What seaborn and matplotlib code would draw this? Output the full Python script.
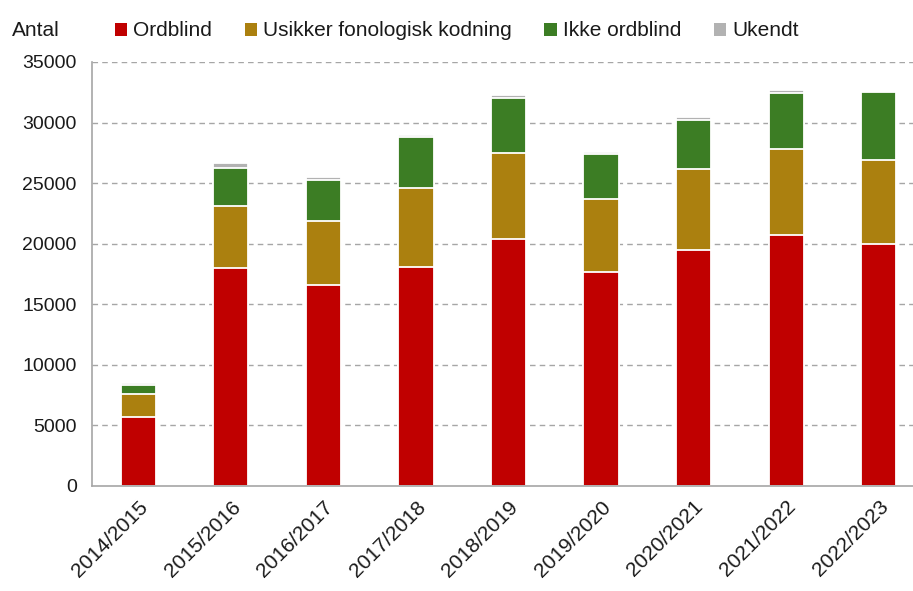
import numpy as np
import pandas as pd
import matplotlib.pyplot as plt
import seaborn as sns
from matplotlib.patches import Patch

# data
years = ["2014/2015", "2015/2016", "2016/2017", "2017/2018", "2018/2019",
         "2019/2020", "2020/2021", "2021/2022", "2022/2023"]
ordblind = [5670, 18000, 16600, 18080, 20420, 17670, 19480, 20750, 20000]
usikker = [1930, 5140, 5300, 6550, 7100, 6050, 6660, 7100, 6880]
ikke_ordblind = [760, 3110, 3360, 4170, 4540, 3680, 4100, 4620, 5670]
ukendt = [170, 410, 220, 180, 190, 200, 190, 190, 0]

labels = ["Ordblind", "Usikker fonologisk kodning", "Ikke ordblind", "Ukendt"]
colors = ["#C00000", "#AB800F", "#3C7D24", "#B2B2B2"]

df = pd.DataFrame({"year": years, "Ordblind": ordblind,
                   "Usikker fonologisk kodning": usikker,
                   "Ikke ordblind": ikke_ordblind, "Ukendt": ukendt})

# cumulative sums, so the stacks can be drawn tallest first
cum = df[labels].cumsum(axis=1)
cum["year"] = df["year"]

sns.set_style("white")
plt.rcParams["font.family"] = ["Liberation Sans", "DejaVu Sans"]
txt = "#1a1a1a"
grey = "#A6A6A6"

fig = plt.figure(figsize=(9.13, 5.91), dpi=100)
ax = fig.add_axes([92 / 913, 1 - 486 / 591, 833 / 913, 424 / 591])

for lab, col in reversed(list(zip(labels, colors))):
    sns.barplot(data=cum, x="year", y=lab, color=col, saturation=1,
                width=0.38, edgecolor="white", linewidth=1.3, ax=ax)

ax.set_ylim(0, 35000)
ax.set_xlim(-0.5, 8.5)
ax.set_yticks(np.arange(0, 35001, 5000))
for v in range(5000, 35001, 5000):
    ax.axhline(v, color=grey, lw=1, ls=(0, (4, 3)), zorder=0)

ax.set_xlabel("")
ax.set_ylabel("")
sns.despine(ax=ax)
for s in ["left", "bottom"]:
    ax.spines[s].set_color(grey)
    ax.spines[s].set_linewidth(1.2)

ax.tick_params(axis="y", length=7, color=grey, labelsize=14, labelcolor=txt, pad=4)
ax.set_xticks(np.arange(-0.5, 9, 1), minor=True)
ax.tick_params(axis="x", which="minor", length=7, color=grey, direction="out")
ax.tick_params(axis="x", which="major", length=0, labelsize=15, labelcolor=txt, pad=8)
plt.setp(ax.get_xticklabels(), rotation=45, ha="right", rotation_mode="anchor")

fig.text(12 / 913, 1 - 31 / 591, "Antal", fontsize=15, color=txt, va="center", ha="left")

handles = [Patch(facecolor=c, edgecolor="none") for c in colors]
fig.legend(handles, labels, loc="center left", bbox_to_anchor=(96 / 913, 1 - 31 / 591),
           ncol=4, frameon=False, fontsize=15, handlelength=0.6, handleheight=0.6,
           handletextpad=0.3, columnspacing=1.55, labelcolor=txt)

plt.savefig("out.png", dpi=100)
